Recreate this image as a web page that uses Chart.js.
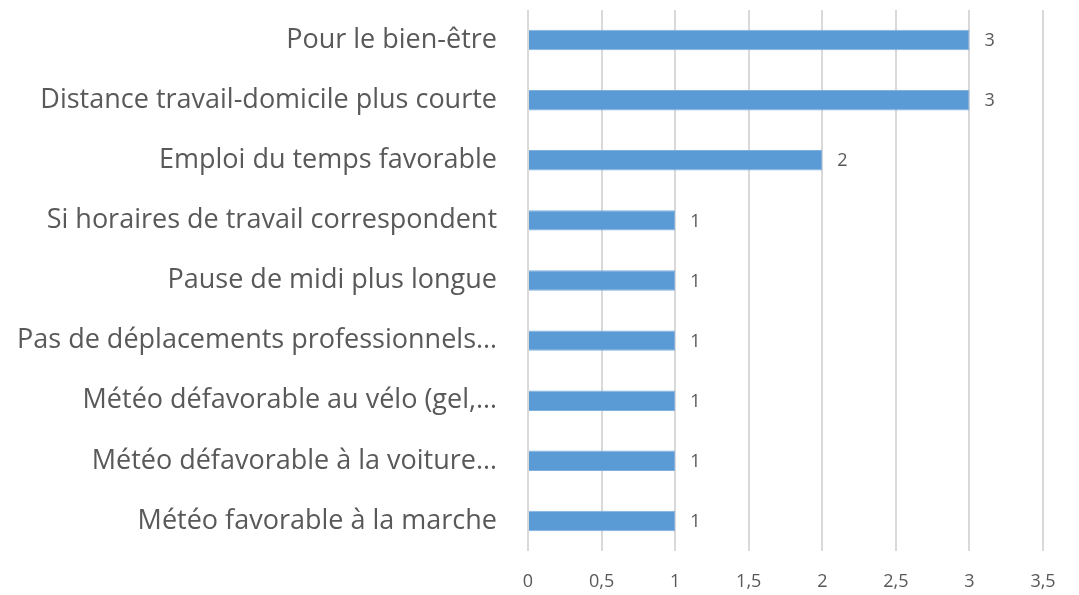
<!DOCTYPE html>
<html>
<head>
<meta charset="utf-8">
<script src="https://cdn.jsdelivr.net/npm/chart.js@4"></script>
<style>
    html, body { margin: 0; padding: 0; background: #fff; }
    #wrap { width: 1079px; height: 595px; }
</style>
</head>
<body>
<div id="wrap"><canvas id="chart"></canvas></div>
<script>
const categories = [
    'Pour le bien-être',
    'Distance travail-domicile plus courte',
    'Emploi du temps favorable',
    'Si horaires de travail correspondent',
    'Pause de midi plus longue',
    'Pas de déplacements professionnels…',
    'Météo défavorable au vélo (gel,…',
    'Météo défavorable à la voiture…',
    'Météo favorable à la marche'
]
const values = [3, 3, 2, 1, 1, 1, 1, 1, 1]
const xTicks = [0, 0.5, 1, 1.5, 2, 2.5, 3, 3.5]

const textColor = '#595959'
const font = 'Open Sans'

// value labels at the end of each bar
const barLabels = {
    id: 'barLabels',
    afterDatasetsDraw(chart) {
        const ctx = chart.ctx
        const meta = chart.getDatasetMeta(0)
        ctx.save()
        ctx.fillStyle = textColor
        ctx.font = '18px "' + font + '"'
        ctx.textAlign = 'left'
        ctx.textBaseline = 'middle'
        meta.data.forEach((bar, i) => {
            ctx.fillText(values[i], bar.x + 15, bar.y + 1)
        })
        ctx.restore()
    }
}

new Chart(document.getElementById('chart'), {
    type: 'bar',
    data: {
        labels: categories,
        datasets: [{
            data: values,
            backgroundColor: '#5b9bd5',
            borderColor: '#7fb0df',
            borderWidth: 1,
            categoryPercentage: 1,
            barPercentage: 0.34
        }]
    },
    options: {
        indexAxis: 'y',
        responsive: true,
        maintainAspectRatio: false,
        animation: false,
        layout: { padding: { top: 10, right: 36, left: 0, bottom: 0 } },
        plugins: { legend: { display: false }, tooltip: { enabled: false } },
        scales: {
            x: {
                min: 0,
                max: 3.5,
                afterBuildTicks: axis => { axis.ticks = xTicks.map(v => ({ value: v })) },
                afterFit: axis => { axis.height = 44 },
                grid: { color: '#d9d9d9', lineWidth: 2, drawTicks: false },
                border: { display: false },
                ticks: {
                    color: textColor,
                    font: { family: font, size: 18 },
                    padding: 20,
                    callback: v => String(v).replace('.', ',')
                }
            },
            y: {
                afterFit: axis => {
                    axis.width = 528
                    axis.paddingTop = 0
                    axis.paddingBottom = 0
                },
                grid: { display: false, drawTicks: false },
                border: { display: false },
                ticks: {
                    color: textColor,
                    font: { family: font, size: 27 },
                    padding: 31
                }
            }
        }
    },
    plugins: [barLabels]
})
</script>
</body>
</html>
